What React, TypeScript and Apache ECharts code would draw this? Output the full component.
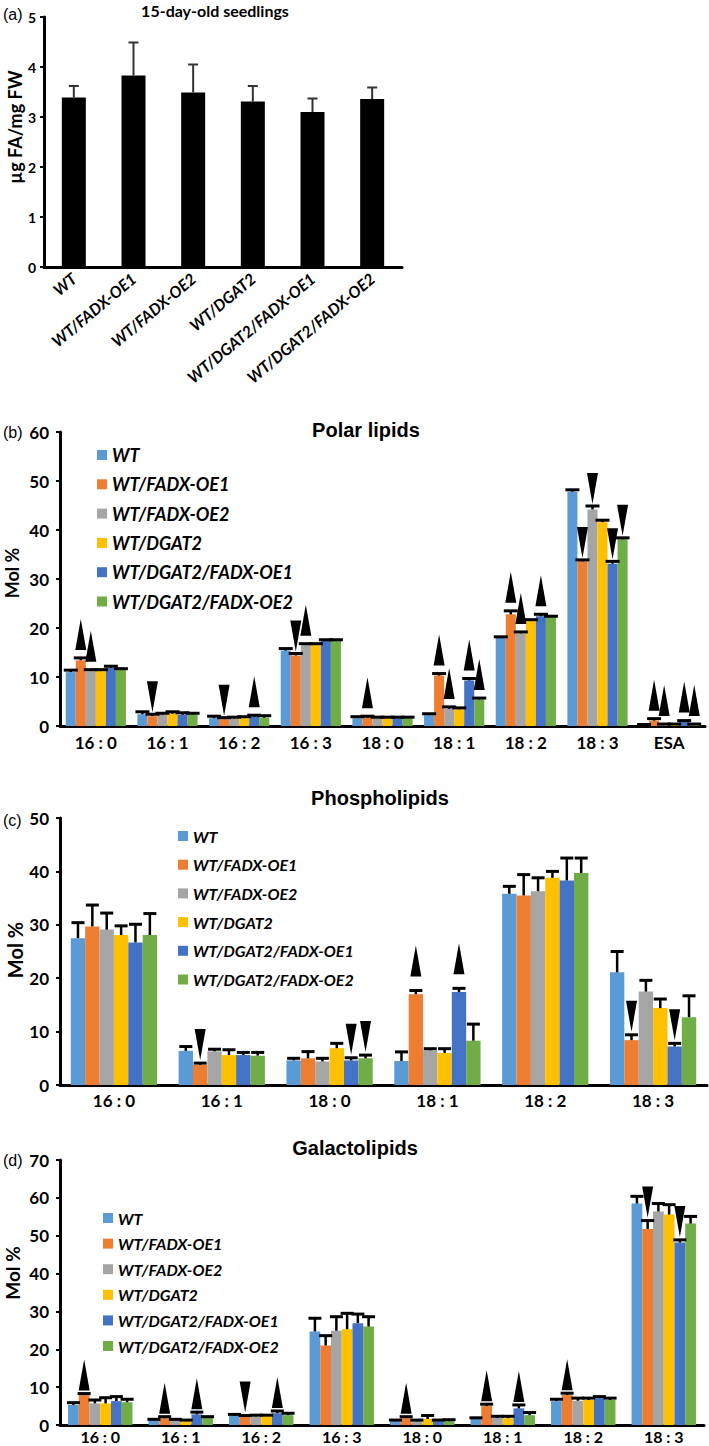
import { useEffect, useRef } from 'react';
import * as echarts from 'echarts';

// ---------- shared ----------
const GENOTYPES = ['WT', 'WT/FADX-OE1', 'WT/FADX-OE2', 'WT/DGAT2', 'WT/DGAT2/FADX-OE1', 'WT/DGAT2/FADX-OE2'];
const COLORS = ['#5B9BD5', '#ED7D31', '#A5A5A5', '#FFC000', '#4472C4', '#70AD47'];

// ---------- (a) 15-day-old seedlings, µg FA/mg FW ----------
const aCategories = GENOTYPES;
const aMean = [3.39, 3.83, 3.49, 3.31, 3.1, 3.36];
const aErr = [0.23, 0.66, 0.56, 0.31, 0.27, 0.23];

// ---------- (b) Polar lipids, Mol % ----------
const bCategories = ['16 : 0', '16 : 1', '16 : 2', '16 : 3', '18 : 0', '18 : 1', '18 : 2', '18 : 3', 'ESA'];
const bWT = [11.0, 2.4, 1.6, 15.4, 1.6, 2.2, 18.0, 47.8, 0.2];
const bWTErr = [0.4, 0.5, 0.4, 0.4, 0.3, 0.3, 0.2, 0.4, 0.1];
const bOE1 = [13.4, 2.0, 1.4, 14.4, 1.7, 10.3, 22.8, 33.6, 1.1];
const bOE1Err = [0.5, 0.4, 0.3, 0.4, 0.3, 0.4, 0.7, 0.3, 0.4];
const bOE2 = [11.2, 2.3, 1.5, 16.5, 1.6, 3.5, 18.9, 44.2, 0.3];
const bOE2Err = [0.3, 0.3, 0.3, 0.3, 0.2, 0.4, 0.3, 0.7, 0.1];
const bDGAT2 = [11.2, 2.5, 1.6, 16.5, 1.6, 3.4, 21.5, 41.6, 0.3];
const bDGAT2Err = [0.3, 0.4, 0.3, 0.3, 0.2, 0.3, 0.2, 0.4, 0.1];
const bDOE1 = [11.9, 2.3, 1.9, 17.4, 1.6, 9.3, 22.4, 33.1, 0.8];
const bDOE1Err = [0.3, 0.4, 0.3, 0.2, 0.2, 0.4, 0.4, 0.5, 0.3];
const bDOE2 = [11.5, 2.3, 1.7, 17.4, 1.6, 5.4, 22.3, 38.1, 0.3];
const bDOE2Err = [0.2, 0.3, 0.4, 0.2, 0.2, 0.3, 0.1, 0.3, 0.1];
// significance arrows: 1 = increase (up), -1 = decrease (down), 0 = none
const bSigWT = [0, 0, 0, 0, 0, 0, 0, 0, 0];
const bSigOE1 = [1, -1, -1, -1, 1, 1, 1, -1, 1];
const bSigOE2 = [1, 0, 0, 1, 0, 1, 1, -1, 1];
const bSigDGAT2 = [0, 0, 0, 0, 0, 0, 0, 0, 0];
const bSigDOE1 = [0, 0, 1, 0, 0, 1, 1, -1, 1];
const bSigDOE2 = [0, 0, 0, 0, 0, 1, 0, -1, 1];

// ---------- (c) Phospholipids, Mol % ----------
const cCategories = ['16 : 0', '16 : 1', '18 : 0', '18 : 1', '18 : 2', '18 : 3'];
const cWT = [27.5, 6.4, 4.6, 4.5, 35.8, 21.1];
const cWTErr = [2.9, 0.8, 0.4, 1.7, 1.4, 3.9];
const cOE1 = [29.7, 3.8, 5.0, 17.0, 35.5, 8.4];
const cOE1Err = [4.0, 0.3, 1.25, 0.7, 3.9, 1.0];
const cOE2 = [29.1, 6.3, 4.4, 6.5, 36.3, 17.5];
const cOE2Err = [3.1, 0.4, 0.6, 0.3, 2.5, 2.1];
const cDGAT2 = [28.1, 5.6, 6.9, 6.0, 38.8, 14.4];
const cDGAT2Err = [1.7, 1.0, 0.9, 0.8, 1.2, 1.7];
const cDOE1 = [26.7, 5.6, 4.6, 17.4, 38.3, 7.2];
const cDOE1Err = [3.4, 0.5, 0.5, 0.7, 4.2, 0.6];
const cDOE2 = [28.1, 5.5, 5.0, 8.3, 39.7, 12.7];
const cDOE2Err = [4.0, 0.6, 0.6, 3.1, 2.8, 4.0];
const cSigWT = [0, 0, 0, 0, 0, 0];
const cSigOE1 = [0, -1, 0, 1, 0, -1];
const cSigOE2 = [0, 0, 0, 0, 0, 0];
const cSigDGAT2 = [0, 0, 0, 0, 0, 0];
const cSigDOE1 = [0, 0, -1, 1, 0, -1];
const cSigDOE2 = [0, 0, -1, 0, 0, 0];

// ---------- (d) Galactolipids, Mol % ----------
const dCategories = ['16 : 0', '16 : 1', '16 : 2', '16 : 3', '18 : 0', '18 : 1', '18 : 2', '18 : 3'];
const dWT = [5.3, 1.3, 2.5, 24.7, 1.0, 1.6, 6.3, 58.5];
const dWTErr = [0.6, 0.2, 0.3, 3.5, 0.3, 0.3, 0.5, 1.9];
const dOE1 = [7.9, 1.8, 2.2, 21.0, 1.8, 5.0, 7.9, 51.8];
const dOE1Err = [0.4, 0.4, 0.3, 2.6, 0.4, 0.5, 0.5, 2.2];
const dOE2 = [5.7, 1.3, 2.3, 24.9, 1.0, 1.9, 6.4, 56.4];
const dOE2Err = [0.9, 0.2, 0.3, 3.7, 0.3, 0.4, 0.7, 2.1];
const dDGAT2 = [5.7, 1.0, 2.4, 25.3, 1.6, 1.8, 6.6, 55.6];
const dDGAT2Err = [1.5, 0.3, 0.2, 4.2, 0.9, 0.5, 0.5, 2.6];
const dDOE1 = [6.3, 2.8, 3.1, 26.9, 1.0, 4.4, 7.1, 48.2];
const dDOE1Err = [1.2, 0.6, 0.6, 2.4, 0.3, 0.9, 0.4, 0.7];
const dDOE2 = [6.0, 1.9, 2.6, 26.0, 1.0, 2.6, 6.6, 53.2];
const dDOE2Err = [0.8, 0.3, 0.5, 2.6, 0.4, 0.7, 0.5, 1.9];
const dSigWT = [0, 0, 0, 0, 0, 0, 0, 0];
const dSigOE1 = [1, 1, -1, 0, 1, 1, 1, -1];
const dSigOE2 = [0, 0, 0, 0, 0, 0, 0, 0];
const dSigDGAT2 = [0, 0, 0, 0, 0, 0, 0, 0];
const dSigDOE1 = [0, 1, 1, 0, 0, 1, 0, -1];
const dSigDOE2 = [0, 0, 0, 0, 0, 0, 0, 0];

// ---------- styling ----------
const CAL = 'Lato, "Open Sans", sans-serif';
const ARIAL = '"Liberation Sans", Arial, sans-serif';

type Spec = {
  grid: { left: number; top: number; width: number; height: number };
  gap: number; cap: number; lw: number; upGap: number; downGap: number; color: string;
};

const specA: Spec = { grid: { left: 44, top: 17, width: 358, height: 250 }, gap: 0, cap: 10, lw: 2, upGap: 0, downGap: 0, color: '#333' };
const specB: Spec = { grid: { left: 60, top: 432, width: 645, height: 294 }, gap: 0.16, cap: 14, lw: 3, upGap: 8, downGap: 2, color: '#000' };
const specC: Spec = { grid: { left: 60, top: 818, width: 647, height: 267 }, gap: 0.2, cap: 13, lw: 3, upGap: 14, downGap: 3, color: '#000' };
const specD: Spec = { grid: { left: 60, top: 1160, width: 644, height: 265 }, gap: 0.2, cap: 13, lw: 3, upGap: 3, downGap: 3, color: '#000' };

const ARROW_W = 11;
const ARROW_H = 31;

function makeRender(i: number, n: number, spec: Spec, barWidthPx?: number) {
  return (_params: any, api: any) => {
    const cat = api.value(0);
    const mean = api.value(1);
    const err = api.value(2);
    const sig = api.value(3);
    const base = api.coord([cat, mean]);
    const top = api.coord([cat, mean + err]);
    const band = api.size([1, 0])[0];
    const bw = barWidthPx ?? (band * (1 - spec.gap)) / n;
    const x = base[0] + (i - (n - 1) / 2) * bw;
    const y = top[1];
    const st = { stroke: spec.color, lineWidth: spec.lw };
    const children: any[] = [
      { type: 'line', shape: { x1: x, y1: base[1], x2: x, y2: y }, style: { stroke: spec.color, lineWidth: Math.max(2, spec.lw - 0.5) } },
      { type: 'line', shape: { x1: x - spec.cap / 2, y1: y, x2: x + spec.cap / 2, y2: y }, style: st },
    ];
    if (sig > 0) {
      const b = y - spec.upGap;
      children.push({
        type: 'polygon',
        shape: { points: [[x - ARROW_W / 2, b], [x + ARROW_W / 2, b], [x, b - ARROW_H]] },
        style: { fill: '#000' },
      });
    } else if (sig < 0) {
      const t = y - spec.downGap;
      children.push({
        type: 'polygon',
        shape: { points: [[x - ARROW_W / 2, t - ARROW_H], [x + ARROW_W / 2, t - ARROW_H], [x, t]] },
        style: { fill: '#000' },
      });
    }
    return { type: 'group', children };
  };
}

function panelSeries(p: number, spec: Spec, means: number[][], errs: number[][], sigs: number[][]) {
  const out: any[] = [];
  means.forEach((m, i) => {
    out.push({
      type: 'bar',
      name: GENOTYPES[i],
      xAxisIndex: p,
      yAxisIndex: p,
      data: m,
      itemStyle: { color: COLORS[i] },
      barGap: '0%',
      barCategoryGap: spec.gap * 100 + '%',
      z: 2,
    });
  });
  means.forEach((m, i) => {
    out.push({
      type: 'custom',
      name: GENOTYPES[i] + ' error',
      xAxisIndex: p,
      yAxisIndex: p,
      z: 5,
      clip: false,
      data: m.map((v, k) => [k, v, errs[i][k], sigs[i][k]]),
      renderItem: makeRender(i, means.length, spec),
    });
  });
  return out;
}

function xAxisFor(p: number, cats: string[], margin: number, fontSize: number) {
  return {
    type: 'category',
    gridIndex: p,
    data: cats,
    axisLine: { show: true, lineStyle: { color: '#000', width: 3 } },
    axisTick: { show: false },
    axisLabel: { interval: 0, margin, color: '#000', fontFamily: CAL, fontWeight: 'bold', fontSize },
    splitLine: { show: false },
  };
}

function yAxisFor(p: number, max: number, labelSize: number, margin: number, interval: number) {
  return {
    type: 'value',
    gridIndex: p,
    min: 0,
    max,
    interval,
    axisLine: { show: true, lineStyle: { color: '#000', width: 3 } },
    axisTick: { show: true, length: 4, lineStyle: { color: '#000', width: 2 } },
    axisLabel: { color: '#000', fontFamily: CAL, fontWeight: 'bold', fontSize: labelSize, margin },
    splitLine: { show: false },
  };
}

function legendFor(left: number, top: number, fontSize: number, lineHeight: number, gap: number) {
  return {
    data: GENOTYPES,
    orient: 'vertical',
    left,
    top,
    padding: 0,
    itemWidth: 10,
    itemHeight: 10,
    itemGap: gap,
    icon: 'rect',
    selectedMode: false,
    textStyle: { color: '#000', fontFamily: CAL, fontWeight: 'bold', fontStyle: 'italic', fontSize, lineHeight },
  };
}

function textEl(text: string, x: number, y: number, font: string, size: number, weight: string, align = 'center', rotation = 0) {
  return {
    type: 'text',
    x,
    y,
    rotation,
    style: { text, fill: '#000', fontFamily: font, fontSize: size, fontWeight: weight, align, verticalAlign: 'middle' },
  };
}

export default function App() {
  const ref = useRef<HTMLDivElement>(null);

  useEffect(() => {
    if (!ref.current) return;
    const chart = echarts.init(ref.current, undefined, { renderer: 'svg' });

    const series: any[] = [];
    // (a)
    series.push({
      type: 'bar',
      name: '15-day-old seedlings',
      xAxisIndex: 0,
      yAxisIndex: 0,
      data: aMean,
      barWidth: 24,
      itemStyle: { color: '#000' },
      z: 2,
    });
    series.push({
      type: 'custom',
      name: '15-day-old seedlings error',
      xAxisIndex: 0,
      yAxisIndex: 0,
      z: 5,
      clip: false,
      data: aMean.map((v, k) => [k, v, aErr[k], 0]),
      renderItem: makeRender(0, 1, specA, 24),
    });
    series.push(
      ...panelSeries(1, specB,
        [bWT, bOE1, bOE2, bDGAT2, bDOE1, bDOE2],
        [bWTErr, bOE1Err, bOE2Err, bDGAT2Err, bDOE1Err, bDOE2Err],
        [bSigWT, bSigOE1, bSigOE2, bSigDGAT2, bSigDOE1, bSigDOE2]),
    );
    series.push(
      ...panelSeries(2, specC,
        [cWT, cOE1, cOE2, cDGAT2, cDOE1, cDOE2],
        [cWTErr, cOE1Err, cOE2Err, cDGAT2Err, cDOE1Err, cDOE2Err],
        [cSigWT, cSigOE1, cSigOE2, cSigDGAT2, cSigDOE1, cSigDOE2]),
    );
    series.push(
      ...panelSeries(3, specD,
        [dWT, dOE1, dOE2, dDGAT2, dDOE1, dDOE2],
        [dWTErr, dOE1Err, dOE2Err, dDGAT2Err, dDOE1Err, dDOE2Err],
        [dSigWT, dSigOE1, dSigOE2, dSigDGAT2, dSigDOE1, dSigDOE2]),
    );

    const aX: any = xAxisFor(0, aCategories, 9, 16);
    aX.axisLabel = { ...aX.axisLabel, rotate: 40, fontStyle: 'italic', fontSize: 16 };

    const ROT = Math.PI / 2;
    const option: any = {
      animation: false,
      backgroundColor: '#fff',
      grid: [specA.grid, specB.grid, specC.grid, specD.grid].map((g) => ({ ...g, containLabel: false, outerBoundsMode: 'none' })),
      xAxis: [
        aX,
        xAxisFor(1, bCategories, 8, 17),
        xAxisFor(2, cCategories, 7, 17),
        xAxisFor(3, dCategories, 3, 16),
      ],
      yAxis: [
        yAxisFor(0, 5, 14, 8, 1),
        yAxisFor(1, 60, 17, 11, 10),
        yAxisFor(2, 50, 17, 11, 10),
        yAxisFor(3, 70, 17, 11, 10),
      ],
      legend: [
        legendFor(97, 446, 18, 18, 11.3),
        legendFor(178, 828, 16, 16, 12.7),
        legendFor(103, 1210, 16, 16, 9.6),
      ],
      graphic: [
        textEl('15-day-old seedlings', 215, 10, CAL, 16, 'bold'),
        textEl('Polar lipids', 366, 430, ARIAL, 20, 'bold'),
        textEl('Phospholipids', 380, 798, ARIAL, 20, 'bold'),
        textEl('Galactolipids', 355, 1148, ARIAL, 20, 'bold'),
        textEl('(a)', 3, 14, ARIAL, 16, 'normal', 'left'),
        textEl('(b)', 3, 432, ARIAL, 16, 'normal', 'left'),
        textEl('(c)', 3, 820, ARIAL, 16, 'normal', 'left'),
        textEl('(d)', 3, 1160, ARIAL, 16, 'normal', 'left'),
        // y-axis names
        textEl('µg FA/mg FW', 15, 127, CAL, 18, 'bold', 'center', ROT),
        textEl('Mol %', 12, 573, CAL, 18, 'bold', 'center', ROT),
        textEl('Mol %', 15, 950, CAL, 20, 'bold', 'center', ROT),
        textEl('Mol %', 12, 1273, CAL, 19, 'bold', 'center', ROT),
      ],
      series,
    };

    chart.setOption(option);
    return () => chart.dispose();
  }, []);

  return <div ref={ref} style={{ position: 'absolute', left: 0, top: 0, width: 709, height: 1446 }} />;
}
